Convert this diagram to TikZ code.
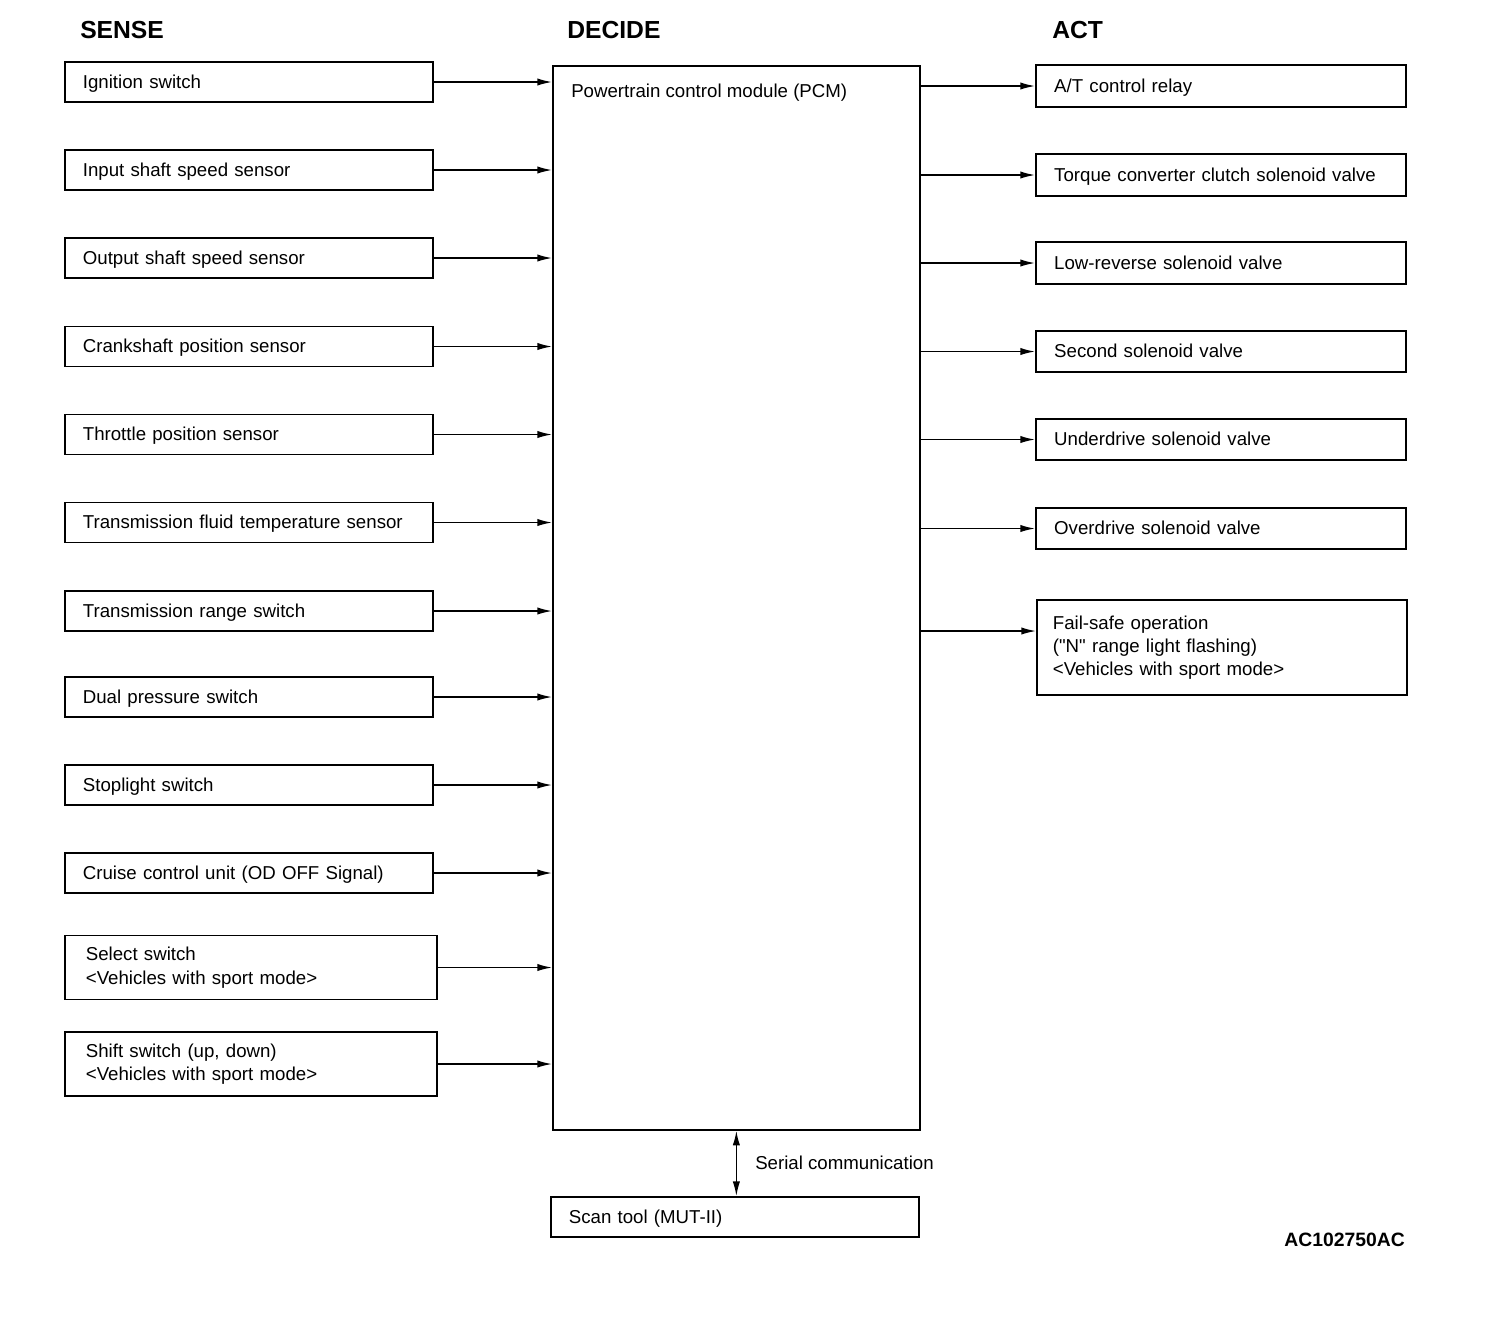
\documentclass[tikz,border=0pt]{standalone}
\usepackage{fontspec}
\setmainfont{Liberation Sans}
\newfontfamily\straightfont{Liberation Sans}
\usepackage{tikz}
\usetikzlibrary{arrows.meta,positioning}

\begin{document}
\begin{tikzpicture}[x=0.75pt,y=-0.75pt,
    every node/.style={font=\fontsize{14}{17.5}\selectfont},
    box/.style={draw,line width=1.3pt,anchor=west,align=left},
    sensebox/.style={box,minimum height=30pt,text width=249pt,inner xsep=13.5pt,text height=10pt,text depth=1pt},
    sensebox2/.style={box,minimum height=48pt,text width=247.5pt,inner xsep=15.75pt},
    actbox/.style={box,minimum height=31pt,text width=250pt,inner xsep=13.75pt,text height=10pt,text depth=1pt},
    heading/.style={anchor=west,inner sep=0pt,font=\fontsize{18.5}{20}\selectfont\bfseries},
    plain/.style={anchor=west,inner sep=0pt},
    arr/.style={line width=1.1pt,-{Latex[length=11pt,width=5.5pt]}}]
  \useasboundingbox (0,0) rectangle (1504,1340);
  % headings
  \node[heading] (sense) at (80,30) {SENSE};
  \node[heading] (decide) at (567,30) {DECIDE};
  \node[heading] (act) at (1052,30) {ACT};
  % control module
  \node[draw,line width=1.3pt,anchor=north west,minimum width=275.25pt,minimum height=798pt] (PCM) at (552,65) {};
  \node[plain] (pcmlabel) at (571,93) {Powertrain control module (PCM)};
  % sense side
  \node[sensebox] (IGN) at (64,82) {Ignition switch};
  \node[sensebox] (ISS) at (64,170) {Input shaft speed sensor};
  \node[sensebox] (OSS) at (64,258) {Output shaft speed sensor};
  \node[sensebox] (CKP) at (64,346.5) {Crankshaft position sensor};
  \node[sensebox] (TPS) at (64,434.5) {Throttle position sensor};
  \node[sensebox] (TFT) at (64,522.5) {Transmission fluid temperature sensor};
  \node[sensebox] (TRS) at (64,611) {Transmission range switch};
  \node[sensebox] (DPS) at (64,697) {Dual pressure switch};
  \node[sensebox] (STOP) at (64,785) {Stoplight switch};
  \node[sensebox] (CCU) at (64,873) {Cruise control unit (OD OFF Signal)};
  \node[sensebox2] (SEL) at (64,967.5) {Select switch\\<Vehicles with sport mode>};
  \node[sensebox2] (SHIFT) at (64,1064) {Shift switch (up, down)\\<Vehicles with sport mode>};
  \foreach \s in {IGN,ISS,OSS,CKP,TPS,TFT,TRS,DPS,STOP,CCU,SEL,SHIFT}
    \draw[arr] (\s.east) -- (\s.east -| PCM.west);
  % act side
  \node[actbox] (REL) at (1035,86) {A/T control relay};
  \node[actbox] (TCC) at (1035,175) {Torque converter clutch solenoid valve};
  \node[actbox] (LR) at (1035,263) {Low-reverse solenoid valve};
  \node[actbox] (SEC) at (1035,351.5) {Second solenoid valve};
  \node[actbox] (UD) at (1035,439.5) {Underdrive solenoid valve};
  \node[actbox] (OD) at (1035,528.5) {Overdrive solenoid valve};
  \node[box,minimum height=71.25pt,inner xsep=12pt,text width=253.5pt] (FAIL) at (1036,647.5) {Fail-safe operation\\({\straightfont"}N{\straightfont"} range light flashing)\\<Vehicles with sport mode>};
  \foreach \a in {REL,TCC,LR,SEC,UD,OD}
    \draw[arr] (PCM.east |- \a.west) -- (\a.west);
  \coordinate (failin) at (1036,631);
  \draw[arr] (PCM.east |- failin) -- (failin);
  % scan tool
  \node[sensebox] (SCAN) at (550,1217) {Scan tool (MUT-II)};
  \draw[line width=1.1pt,{Latex[length=11pt,width=5.5pt]}-{Latex[length=11pt,width=5.5pt]}] (PCM.south) -- (PCM.south |- SCAN.north);
  \node[plain] (serial) at (755,1163) {Serial communication};
  \node[anchor=east,inner sep=0pt,font=\fontsize{14.5}{17.5}\selectfont\bfseries] (code) at (1405,1240) {AC102750AC};
\end{tikzpicture}
\end{document}
